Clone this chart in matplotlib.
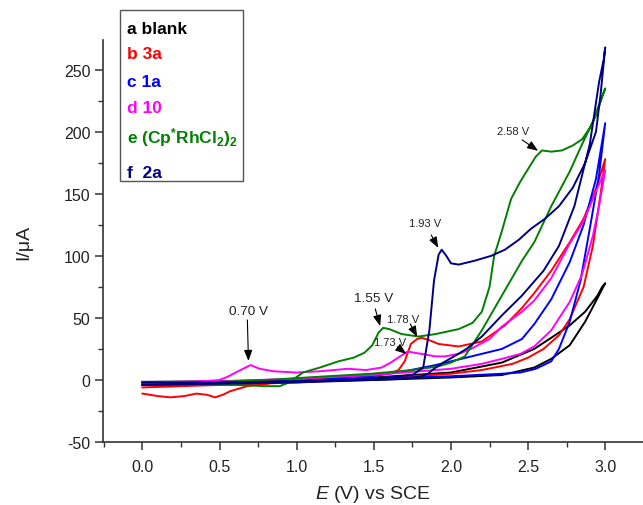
import matplotlib
matplotlib.use("Agg")
import matplotlib.pyplot as plt
from matplotlib.patches import Rectangle
from matplotlib.ticker import MultipleLocator

plt.rcParams["font.family"] = ["Liberation Sans", "DejaVu Sans"]
plt.rcParams["axes.unicode_minus"] = False
plt.rcParams["mathtext.fontset"] = "custom"
plt.rcParams["mathtext.rm"] = "Liberation Sans"
plt.rcParams["mathtext.it"] = "Liberation Sans:italic"
plt.rcParams["mathtext.bf"] = "Liberation Sans:bold"

# ---- data (E in V, I in uA) ----
# a blank
blank_E = [0, 0.5, 1.0, 1.5, 2.0, 2.33, 2.54, 2.65, 2.77, 2.87, 2.95, 3.0,
           2.98, 2.95, 2.87, 2.77, 2.65, 2.54, 2.33, 2.0, 1.5, 1.0, 0.5, 0]
blank_I = [-2, -1.5, -1, 0, 2, 4, 10, 17, 28, 47, 66, 78,
           75, 68, 55, 44, 34, 25, 14, 6, 2, 0, -1, -1.5]

# b 3a
b3a_E = [0, 0.1, 0.18, 0.27, 0.35, 0.42, 0.47, 0.52, 0.57, 0.68, 0.8, 1.0, 1.2, 1.4,
         1.6, 1.66, 1.70, 1.74, 1.78, 1.81, 1.86, 1.92, 2.05, 2.2, 2.35, 2.46, 2.54,
         2.65, 2.77, 2.86, 2.94, 3.0,
         2.97, 2.92, 2.86, 2.77, 2.7, 2.6, 2.5, 2.4, 2.2, 2.0, 1.5, 1.0, 0.5, 0]
b3a_I = [-11, -13, -14, -13, -11, -12, -14, -12, -9, -5, -3, 0, 1, 3,
         5, 8, 15, 29, 33, 34, 32, 29, 27, 31, 44, 58, 70,
         88, 111, 130, 154, 178,
         150, 108, 75, 49, 36, 25, 18, 13, 8, 5, 1, -2, -4, -6]

# c 1a
c1a_E = [0, 0.5, 1.0, 1.48, 1.7, 1.9, 2.1, 2.33, 2.46, 2.54, 2.65, 2.77, 2.86, 2.94, 3.0,
         2.96, 2.9, 2.84, 2.77, 2.7, 2.65, 2.55, 2.45, 2.33, 2.0, 1.5, 1.0, 0.5, 0]
c1a_I = [-4, -3, -1, 3, 7, 12, 18, 25, 33, 45, 65, 95, 125, 162, 207,
         165, 122, 80, 47, 25, 15, 9, 6, 5, 3, 1, -1, -3, -4]

# d 10
d10_E = [0, 0.3, 0.5, 0.55, 0.62, 0.70, 0.76, 0.85, 1.0, 1.15, 1.33, 1.45, 1.55, 1.61,
         1.67, 1.72, 1.76, 1.81, 1.9, 1.96, 2.05, 2.13, 2.25, 2.33, 2.46, 2.54, 2.65,
         2.77, 2.86, 2.94, 3.0,
         2.96, 2.92, 2.85, 2.77, 2.65, 2.54, 2.45, 2.33, 2.2, 2.0, 1.5, 1.0, 0.5, 0]
d10_I = [-3, -2, 0, 2.5, 7, 12, 9, 7, 6, 7, 9, 8, 10, 14,
         19, 23, 22, 21, 19, 19, 21, 25, 33, 43, 55, 64, 82,
         110, 128, 152, 169,
         140, 116, 85, 63, 40, 27, 21, 17, 13, 9, 4, 1, -1, -2]

# e (Cp*RhCl2)2
rh_E = [0, 0.3, 0.6, 0.8, 0.89, 0.95, 1.04, 1.15, 1.27, 1.37, 1.44, 1.49, 1.53, 1.56,
        1.6, 1.68, 1.79, 1.9, 2.05, 2.14, 2.2, 2.25, 2.28, 2.33, 2.39, 2.45, 2.5, 2.55,
        2.59, 2.65, 2.72, 2.79, 2.85, 2.9, 2.94, 2.98, 3.0,
        2.96, 2.92, 2.85, 2.77, 2.65, 2.54, 2.46, 2.33, 2.2, 2.09, 2.0, 1.92, 1.75,
        1.48, 1.2, 0.8, 0.4, 0]
rh_I = [-4, -4, -4, -5, -5, -2, 6, 10, 15, 18, 22, 28, 38, 42,
        41, 37, 35, 37, 41, 46, 55, 75, 100, 120, 146, 160, 170, 180,
        185, 184, 185, 189, 194, 203, 213, 228, 235,
        222, 208, 190, 168, 140, 111, 96, 68, 40, 19, 14, 11, 8,
        5, 3, 0, -2, -3]

# f 2a
f2a_E = [0, 0.5, 1.0, 1.5, 1.75, 1.82, 1.86, 1.89, 1.92, 1.94, 1.97, 2.0, 2.05, 2.15,
         2.26, 2.35, 2.44, 2.52, 2.61, 2.7, 2.79, 2.87, 2.94, 2.97, 3.0,
         2.99, 2.96, 2.9, 2.8, 2.7, 2.6, 2.46, 2.33, 2.2, 2.1, 2.02, 1.95, 1.89, 1.85,
         1.81, 1.7, 1.5, 1.0, 0.5, 0]
f2a_I = [-2, -2, -1, 1, 4, 10, 40, 80, 101, 105, 100, 94, 93, 96,
         100, 105, 113, 122, 130, 140, 155, 175, 200, 230, 268,
         258, 240, 190, 140, 108, 88, 68, 52, 35, 25, 19, 14, 9, 5,
         3, 1, 0, -2, -3, -4]

curves = [
    (blank_E, blank_I, "#000000"),
    (b3a_E, b3a_I, "#FF0000"),
    (c1a_E, c1a_I, "#0000FF"),
    (d10_E, d10_I, "#FF00FF"),
    (rh_E, rh_I, "#008000"),
    (f2a_E, f2a_I, "#000080"),
]

legend_labels = ["a blank", "b 3a", "c 1a", "d 10",
                 r"e (Cp$^{\mathbf{*}}$RhCl$_{\mathbf{2}}$)$_{\mathbf{2}}$", "f  2a"]

W, H = 643, 506
fig = plt.figure(figsize=(W / 100, H / 100), dpi=100)
ax = fig.add_axes([103 / W, 1 - 443 / H, (W - 103) / W, (443 - 41) / H])

for E, I, col in curves:
    ax.plot(E, I, color=col, lw=1.4, solid_joinstyle="round")

ax.set_xlim(-0.256, 3.245)
ax.set_ylim(-50, 274)
ax.xaxis.set_major_locator(MultipleLocator(0.5))
ax.xaxis.set_minor_locator(MultipleLocator(0.25))
ax.yaxis.set_major_locator(MultipleLocator(50))
ax.yaxis.set_minor_locator(MultipleLocator(25))
ax.xaxis.set_major_formatter(plt.FormatStrFormatter("%.1f"))
ax.yaxis.set_major_formatter(plt.FormatStrFormatter("%d"))

for s in ["top", "right"]:
    ax.spines[s].set_visible(False)
for s in ["left", "bottom"]:
    ax.spines[s].set_linewidth(1.2)
    ax.spines[s].set_color("#333333")
ax.tick_params(which="major", direction="out", length=6, width=1.1,
               color="#333333", labelsize=11.5, labelcolor="#222222", pad=3)
ax.tick_params(axis="x", which="major", pad=6)
ax.tick_params(which="minor", direction="out", length=3.5, width=1.0, color="#333333")

ax.set_xlabel(r"$E$ (V) vs SCE", fontsize=14, color="#222222", labelpad=7)
ax.set_ylabel("I/\u03bcA", fontsize=14, color="#222222", labelpad=23)

# peak annotations: arrows then labels
arrows = [((0.680, 48.4), (0.687, 15.3)),
          ((1.509, 57.3), (1.541, 43.5)),
          ((1.736, 45.2), (1.781, 34.7)),
          ((1.652, 26.6), (1.710, 21.0)),
          ((1.872, 116.9), (1.917, 106.5)),
          ((2.461, 193.5), (2.565, 184.7))]
for tail, head in arrows:
    ax.annotate("", xy=head, xytext=tail,
                arrowprops=dict(arrowstyle="-|>,head_length=0.65,head_width=0.25",
                                color="black", lw=0.8, shrinkA=0, shrinkB=0))

ax.text(0.687, 55.6, "0.70 V", fontsize=9.7, ha="center", va="center", color="#222222")
ax.text(1.496, 66.1, "1.55 V", fontsize=9.7, ha="center", va="center", color="#222222")
ax.text(1.690, 49.2, "1.78 V", fontsize=8, ha="center", va="center", color="#222222")
ax.text(1.606, 30.6, "1.73 V", fontsize=8, ha="center", va="center", color="#222222")
ax.text(1.833, 126.6, "1.93 V", fontsize=8, ha="center", va="center", color="#222222")
ax.text(2.403, 200.8, "2.58 V", fontsize=8, ha="center", va="center", color="#222222")

# custom legend box
fig.patches.append(Rectangle((120 / W, 1 - 182 / H), 123 / W, 171 / H,
                             transform=fig.transFigure, fill=False,
                             edgecolor="#555555", lw=1.0))
baselines = [34, 59, 87, 113, 143, 178]
for (E, I, col), lab, yb in zip(curves, legend_labels, baselines):
    fig.text(127 / W, 1 - yb / H, lab, color=col, fontsize=12.5,
             fontweight="bold", ha="left", va="baseline")

fig.savefig("out.png", dpi=100)
